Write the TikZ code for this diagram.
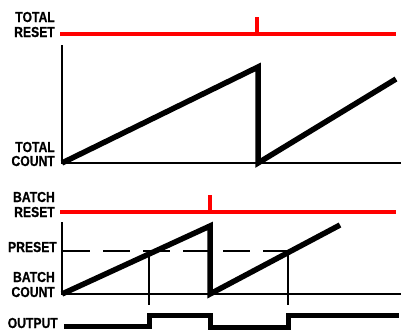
\documentclass[tikz,border=0pt]{standalone}
\usepackage{fontspec}
\setmainfont[FakeStretch=0.84,BoldFeatures={FakeBold=0.6}]{Liberation Sans}
\begin{document}
\begin{tikzpicture}[x=1pt,y=-1pt,
  lbl/.style={anchor=base east,inner sep=0pt,font=\fontsize{14.5}{15}\selectfont\bfseries},
  resetline/.style={draw=red,line width=4.5pt},
  axisline/.style={draw=black,line width=2.8pt},
  ramp/.style={draw=black,line width=5.5pt,line join=miter},
  thin/.style={draw=black,line width=2pt},
  presetline/.style={draw=black,line width=2pt,dash pattern=on 27pt off 13pt},
  outline/.style={draw=black,line width=5pt,line join=miter}]
\useasboundingbox (0,0) rectangle (401,332);
% labels
\node[lbl] (tr1) at (55,22) {TOTAL};
\node[lbl] (tr2) at (55,37) {RESET};
\node[lbl] (tc1) at (55,152) {TOTAL};
\node[lbl] (tc2) at (55,166) {COUNT};
\node[lbl] (br1) at (55,202) {BATCH};
\node[lbl] (br2) at (55,217) {RESET};
\node[lbl] (ps) at (57,252) {PRESET};
\node[lbl] (bc1) at (55,282) {BATCH};
\node[lbl] (bc2) at (55,297) {COUNT};
\node[lbl] (out) at (58,328) {OUTPUT};
% top panel
\draw[resetline] (60,34) -- (396,34);
\draw[red,line width=3.5pt] (257,34) -- (257,17);
\draw[axisline] (62,45) -- (62,163) -- (401,163);
\draw[ramp] (62,163) -- (258,67) -- (258,163) -- (396,79);
% bottom panel
\draw[resetline] (60,212) -- (396,212);
\draw[red,line width=3.5pt] (210,212) -- (210,195);
\draw[axisline] (62,222) -- (62,294) -- (401,294);
\draw[presetline] (63,251) -- (290,251);
\draw[thin] (149,251) -- (149,305);
\draw[thin] (288,251) -- (288,305);
\draw[ramp] (62,294) -- (210,226) -- (210,294) -- (340,225);
\draw[outline] (64,326) -- (149,326) -- (149,315) -- (210,315) -- (210,327) -- (288,327) -- (288,315) -- (399,315);
\end{tikzpicture}
\end{document}
